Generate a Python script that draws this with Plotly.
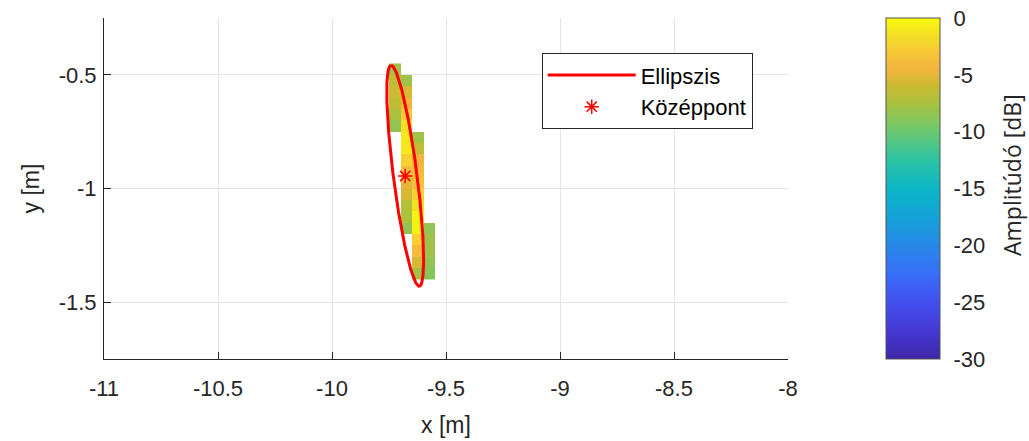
import numpy as np
import plotly.graph_objects as go

# Grid cell centres (m)
x_centers = [-9.725, -9.675, -9.625, -9.575]
y_centers = [-0.475 - 0.05 * i for i in range(19)]

# Amplitude (dB) per column, listed top to bottom, with the first row index of each column
col1_start, col1_db = 0, [-8, -6.5, -6, -6.5, -7.5, -8.5]
col2_start, col2_db = 1, [-8, -5.5, -4.5, -3, -1.5, -1, -1, -2.5, -4, -5, -5.5, -7, -7.5, -8.5]
col3_start, col3_db = 6, [-8, -6.5, -4.5, -4, -3.5, -2.5, -1.5, -0.5, -0.5, -2.5, -4, -5.5, -8]
col4_start, col4_db = 14, [-8.5, -8, -8, -8.5, -9]

# Fitted ellipse parameters
ell_cx, ell_cy = -9.679, -0.944
ell_a, ell_b = 0.49, 0.052
ell_angle_deg = 97.3

# Centre point
center_x, center_y = [-9.679], [-0.945]

x_ticks = [-11, -10.5, -10, -9.5, -9, -8.5, -8]
x_ticklabels = ["-11", "-10.5", "-10", "-9.5", "-9", "-8.5", "-8"]
y_ticks = [-1.5, -1, -0.5]
y_ticklabels = ["-1.5", "-1", "-0.5"]
cb_ticks = [0, -5, -10, -15, -20, -25, -30]
cb_min, cb_max = -30, 0

# Build amplitude matrix (rows = y, cols = x); empty cells are NaN
z = np.full((len(y_centers), len(x_centers)), np.nan)
for j, (start, vals) in enumerate([(col1_start, col1_db), (col2_start, col2_db),
                                   (col3_start, col3_db), (col4_start, col4_db)]):
    for k, v in enumerate(vals):
        z[start + k, j] = v

parula = [
    [0.000, "#3E26A8"], [0.083, "#4538D4"], [0.167, "#4250EE"], [0.250, "#386EF8"],
    [0.333, "#2689E8"], [0.417, "#14A2D8"], [0.500, "#0BB6C6"], [0.583, "#2CC3A4"],
    [0.667, "#6CC870"], [0.750, "#AAC23E"], [0.800, "#CABB30"], [0.850, "#F2B43E"],
    [0.900, "#F8C838"], [0.950, "#F4DF24"], [1.000, "#F9FB0E"],
]

t = np.linspace(0, 2 * np.pi, 361)
th = np.deg2rad(ell_angle_deg)
ex = ell_cx + ell_a * np.cos(t) * np.cos(th) - ell_b * np.sin(t) * np.sin(th)
ey = ell_cy + ell_a * np.cos(t) * np.sin(th) + ell_b * np.sin(t) * np.cos(th)

FONT = "Arial, Liberation Sans, sans-serif"
AX = "#262626"

# Plot-area geometry in pixels
PL, PR = 104, 788
PW = PR - PL
CB_LEFT, CB_W = 886, 54

fig = go.Figure()
fig.add_trace(go.Heatmap(
    x=x_centers, y=y_centers, z=z, zmin=cb_min, zmax=cb_max,
    colorscale=parula, showscale=True, showlegend=False, hoverongaps=False,
    colorbar=dict(
        x=(CB_LEFT - PL) / PW, xanchor="left", xref="paper",
        y=0.5, yanchor="middle", len=1.0, lenmode="fraction",
        xpad=0, ypad=0,
        thickness=CB_W, thicknessmode="pixels",
        outlinewidth=1, outlinecolor="#555555",
        tickvals=cb_ticks, ticktext=[str(v) for v in cb_ticks],
        ticks="outside", ticklen=9, tickcolor="rgba(0,0,0,0)",
        tickfont=dict(family=FONT, size=22, color=AX),
    ),
))
fig.add_trace(go.Scatter(
    x=ex, y=ey, mode="lines", name="Ellipszis",
    line=dict(color="#FF0000", width=3),
))
fig.add_trace(go.Scatter(
    x=center_x, y=center_y, mode="markers", name="Középpont",
    marker=dict(symbol="asterisk-open", size=12, color="#FF0000",
                line=dict(color="#FF0000", width=1.5)),
))

# Short inward tick marks on the colorbar's right edge
cb_right = (CB_LEFT + CB_W - PL) / PW
for v in cb_ticks[1:-1]:
    yp = (v - cb_min) / (cb_max - cb_min)
    fig.add_shape(type="line", xref="paper", yref="paper",
                  x0=cb_right - 4 / PW, x1=cb_right, y0=yp, y1=yp,
                  line=dict(color=AX, width=1))

fig.add_annotation(
    text="Amplitúdó [dB]", textangle=-90, showarrow=False,
    xref="paper", yref="paper", x=(1012 - PL) / PW, y=1 - (175 - 18) / 341,
    xanchor="center", yanchor="middle",
    font=dict(family="Open Sans, sans-serif", size=23, color=AX),
)

fig.update_layout(
    width=1029, height=441,
    margin=dict(l=PL, r=1029 - PR, t=18, b=82, autoexpand=False),
    paper_bgcolor="white", plot_bgcolor="white",
    font=dict(family=FONT, size=22, color=AX),
    xaxis=dict(
        range=[-11, -8], tickvals=x_ticks, ticktext=x_ticklabels,
        showgrid=True, gridcolor="#E5E5E5", gridwidth=1, zeroline=False,
        showline=True, linecolor=AX, linewidth=1,
        ticks="inside", ticklen=7, tickcolor=AX, ticklabelstandoff=10,
        tickfont=dict(family=FONT, size=22, color=AX),
        title=dict(text="x [m]", standoff=16, font=dict(family=FONT, size=23, color=AX)),
    ),
    yaxis=dict(
        range=[-1.75, -0.25], tickvals=y_ticks, ticktext=y_ticklabels,
        showgrid=True, gridcolor="#E5E5E5", gridwidth=1, zeroline=False,
        showline=True, linecolor=AX, linewidth=1,
        ticks="inside", ticklen=7, tickcolor=AX, ticklabelstandoff=2,
        tickfont=dict(family=FONT, size=22, color=AX),
        title=dict(text="y [m]", standoff=12, font=dict(family=FONT, size=23, color=AX)),
    ),
    legend=dict(
        x=(541.7 - PL) / PW, xanchor="left", y=1 - (53.3 - 18) / 341, yanchor="top",
        bgcolor="white", bordercolor=AX, borderwidth=1,
        font=dict(family=FONT, size=22, color="#000000"),
        itemwidth=88, tracegroupgap=0,
    ),
)

fig.write_html("out.html")
